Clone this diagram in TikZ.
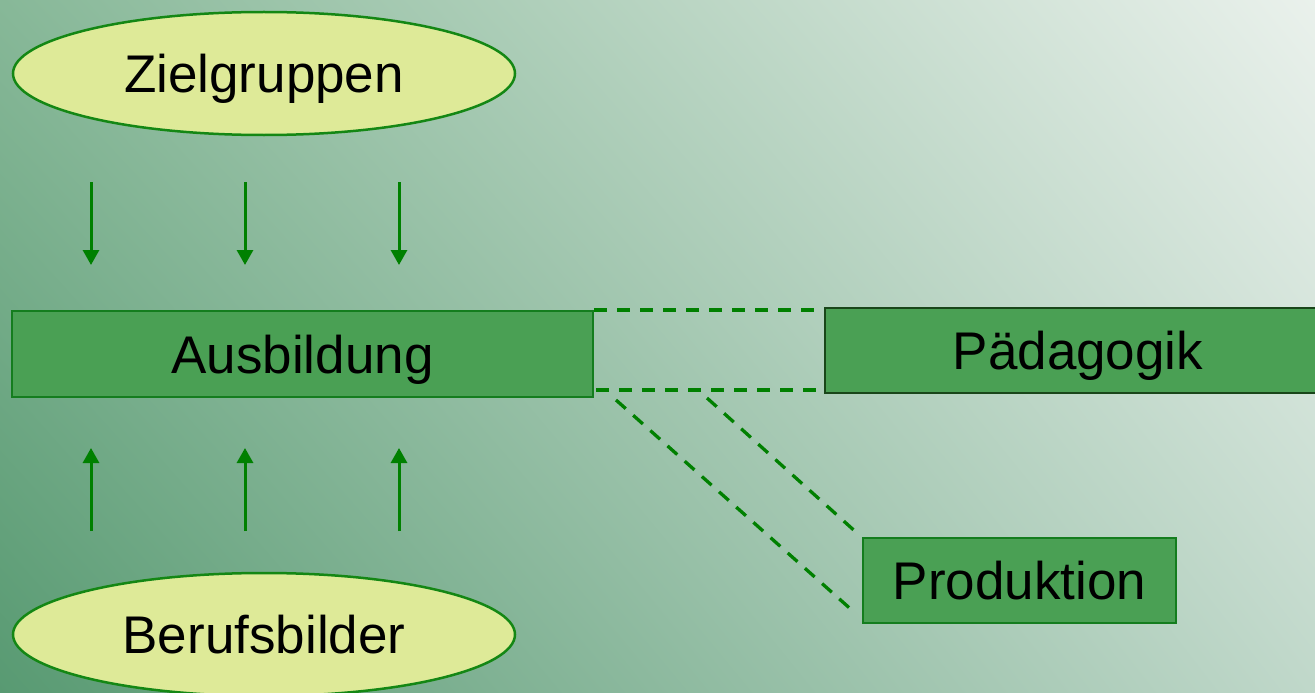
\documentclass[tikz,border=0pt]{standalone}
\usepackage{fontspec}
\setmainfont{Liberation Sans}
\usetikzlibrary{shapes.geometric,arrows.meta,shadings}
\definecolor{bgTL}{RGB}{135,184,152}
\definecolor{bgBL}{RGB}{88,154,114}
\definecolor{bgTR}{RGB}{234,241,236}
\definecolor{bgBR}{RGB}{192,216,202}
\definecolor{boxfill}{RGB}{74,160,84}
\definecolor{boxline}{RGB}{20,125,30}
\definecolor{ellfill}{RGB}{222,234,152}
\definecolor{ellline}{RGB}{20,135,20}
\definecolor{linegreen}{RGB}{0,128,0}
\definecolor{paedline}{RGB}{25,70,25}
\tikzset{
  lbl/.style={font=\fontsize{53}{60}\selectfont, text height=38pt, text depth=0pt, inner sep=0pt},
  ell/.style={lbl, ellipse, draw=ellline, line width=2.5pt, fill=ellfill, minimum width=502pt, minimum height=123pt},
  gbox/.style={lbl, rectangle, draw=boxline, line width=2pt, fill=boxfill},
  flow/.style={draw=linegreen, line width=3pt, -{Triangle[width=16pt,length=15pt]}},
  link/.style={draw=linegreen, line width=3.3pt, dash pattern=on 13pt off 10pt}
}
\begin{document}
\begin{tikzpicture}[x=1pt,y=-1pt]
\useasboundingbox (0,0) rectangle (1315,693);
\clip (0,0) rectangle (1315,693);
\shade[upper left=bgTL, upper right=bgTR, lower left=bgBL, lower right=bgBR] (0,0) rectangle (1315,693);

\node[ell] (ziel) at (264,73.5) {Zielgruppen};
\node[ell] (beruf) at (264,634.5) {Berufsbilder};
\node[gbox, minimum width=581pt, minimum height=86pt] (ausb) at (302.5,354) {Ausbildung};
\node[gbox, draw=paedline, minimum width=506pt, minimum height=85pt] (paed) at (1078,350.5) {Pädagogik};
\node[gbox, minimum width=313pt, minimum height=85pt] (prod) at (1019.5,580.5) {Produktion};

% arrows between the ellipses and Ausbildung
\foreach \x/\n in {91/a,245/b,399/c}{
  \coordinate (zs\n) at (\x,182);
  \coordinate (ze\n) at (\x,265);
  \draw[flow] (zs\n) -- (ze\n);
  \coordinate (bs\n) at (\x,531);
  \coordinate (be\n) at (\x,448);
  \draw[flow] (bs\n) -- (be\n);
}

% dashed links
\draw[link] (ausb.north east) -- (paed.west |- ausb.north east);
\coordinate (lb1) at (596,390);
\draw[link] (lb1) -- (paed.west |- lb1);
\coordinate (d1s) at (616,400);
\coordinate (d1e) at (854,612);
\draw[link] (d1s) -- (d1e);
\coordinate (d2s) at (707,398);
\coordinate (d2e) at (857,533);
\draw[link] (d2s) -- (d2e);
\end{tikzpicture}
\end{document}
